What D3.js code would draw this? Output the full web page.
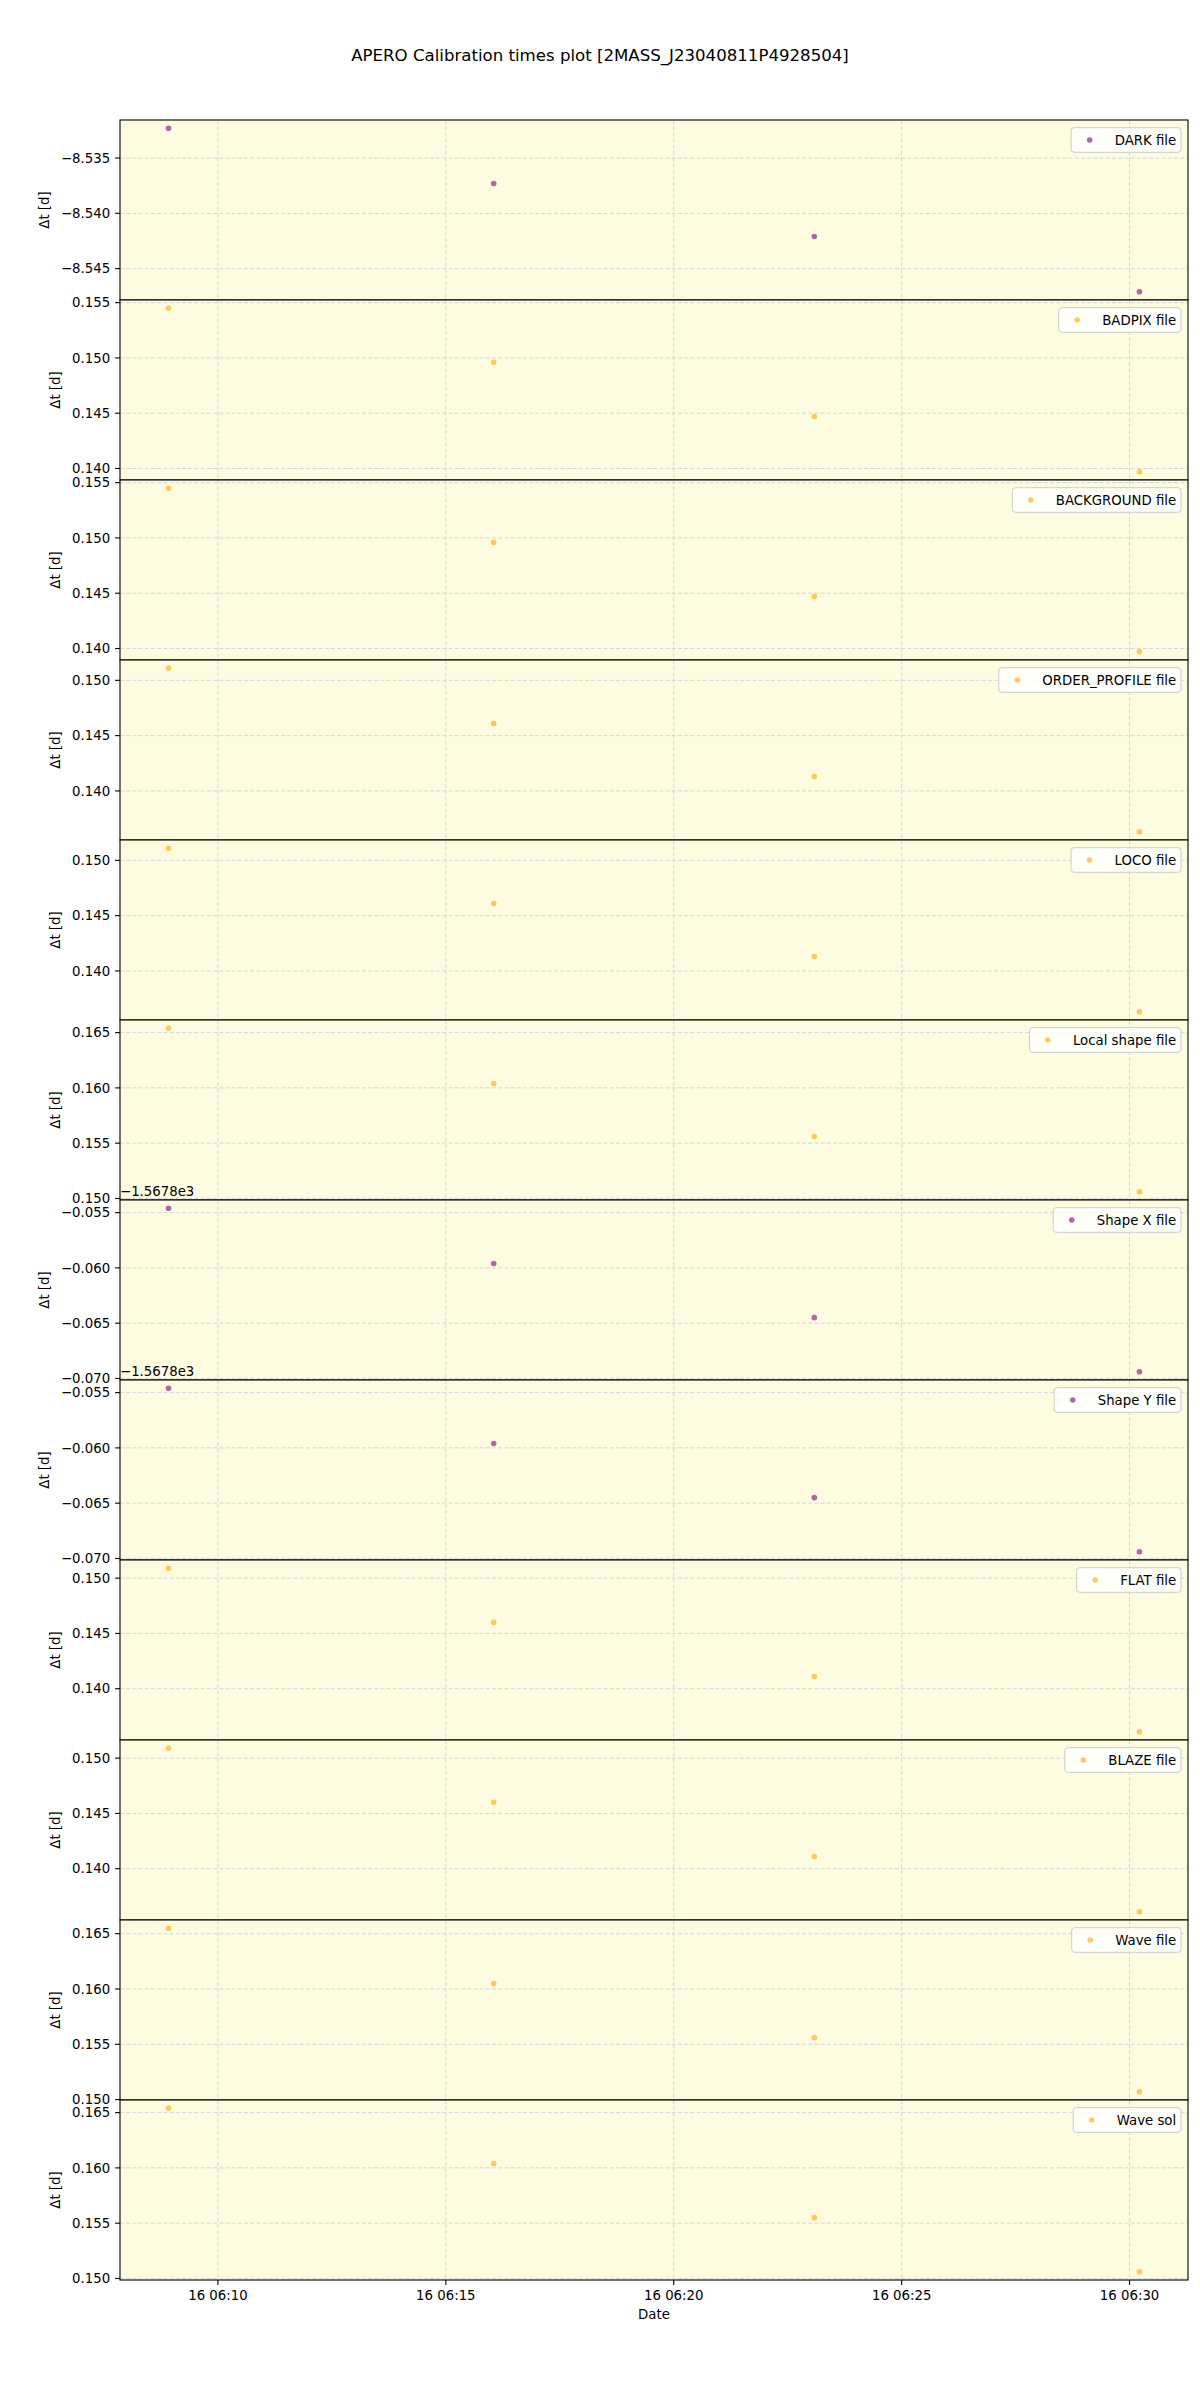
<!DOCTYPE html>
<html><head><meta charset="utf-8">
<script src="https://cdn.jsdelivr.net/npm/d3@7"></script>
<style>body{margin:0;background:#fff} text{font-family:"DejaVu Sans",sans-serif;fill:#000}</style>
</head><body><svg id="c" width="1200" height="2400"></svg>
<script>
// ---- data ----
const chartTitle = "APERO Calibration times plot [2MASS_J23040811P4928504]";
const obsTimes = ["2021-08-16T06:08:55Z","2021-08-16T06:16:03Z","2021-08-16T06:23:05Z","2021-08-16T06:30:13Z"];
const seriesLabels = ["DARK file","BADPIX file","BACKGROUND file","ORDER_PROFILE file","LOCO file","Local shape file","Shape X file","Shape Y file","FLAT file","BLAZE file","Wave file","Wave sol"];
const darkFile        = [-8.5323, -8.5373, -8.5421, -8.5471];
const badpixFile      = [0.1545, 0.1496, 0.1447, 0.1397];
const backgroundFile  = [0.1545, 0.1496, 0.1447, 0.1397];
const orderProfile    = [0.1511, 0.1461, 0.1413, 0.1363];
const locoFile        = [0.1511, 0.1461, 0.1413, 0.1363];
const localShapeFile  = [0.1654, 0.1604, 0.1556, 0.1506];
const shapeXFile      = [-1567.8546, -1567.8596, -1567.8645, -1567.8694];
const shapeYFile      = [-1567.8546, -1567.8596, -1567.8645, -1567.8694];
const flatFile        = [0.1509, 0.1460, 0.1411, 0.1361];
const blazeFile       = [0.1509, 0.1460, 0.1411, 0.1361];
const waveFile        = [0.1655, 0.1605, 0.1556, 0.1507];
const waveSol         = [0.1654, 0.1604, 0.1555, 0.1506];
const seriesValues = [darkFile,badpixFile,backgroundFile,orderProfile,locoFile,localShapeFile,shapeXFile,shapeYFile,flatFile,blazeFile,waveFile,waveSol];
const axisOffsets = [0,0,0,0,0,0,-1567.8,-1567.8,0,0,0,0];
const offsetLabels = ["","","","","","","−1.5678e3","−1.5678e3","","","",""];
const seriesKind = ["p","o","o","o","o","o","p","p","o","o","o","o"];

// ---- styles ----
const colors = {p:"#800080", o:"#ffa500"};
const L = 120, R = 1188, T = 120, PH = 180;
const FS = 13.3;
const svg = d3.select("#c");
const parse = d3.utcParse("%Y-%m-%dT%H:%M:%SZ");
const times = obsTimes.map(parse);

const tExt = d3.extent(times);
const tPad = (tExt[1]-tExt[0])*0.05;
const x = d3.scaleUtc().domain([new Date(+tExt[0]-tPad), new Date(+tExt[1]+tPad)]).range([L,R]);
const xTicks = x.ticks(d3.utcMinute.every(5));

svg.append("text").attr("x",600).attr("y",61).attr("text-anchor","middle")
  .style("font-size","16.6px").text(chartTitle);

seriesValues.forEach((vals,i)=>{
  const top = T + i*PH, bot = top + PH;
  const ext = d3.extent(vals);
  const pad = (ext[1]-ext[0])*0.05;
  const y = d3.scaleLinear().domain([ext[0]-pad, ext[1]+pad]).range([bot, top]);
  const g = svg.append("g");
  g.append("rect").attr("x",L).attr("y",top).attr("width",R-L).attr("height",PH).attr("fill","#fdfce1");
  const yt = y.ticks(4);
  const off = axisOffsets[i];
  const fmt = d3.format(".3f");
  // grid
  g.selectAll(".gy").data(yt).join("line").attr("x1",L).attr("x2",R)
    .attr("y1",d=>y(d)).attr("y2",d=>y(d)).attr("stroke","#cfd0d8").attr("stroke-width",0.9).attr("stroke-dasharray","4,2.2");
  g.selectAll(".gx").data(xTicks).join("line").attr("y1",top).attr("y2",bot)
    .attr("x1",d=>x(d)).attr("x2",d=>x(d)).attr("stroke","#cfd0d8").attr("stroke-width",0.9).attr("stroke-dasharray","4,2.2");
  // points
  g.selectAll(".pt").data(vals).join("circle").attr("cx",(d,j)=>x(times[j])).attr("cy",d=>y(d))
    .attr("r",2.8).attr("fill",colors[seriesKind[i]]).attr("fill-opacity",0.6);
  // frame
  g.append("rect").attr("x",L).attr("y",top).attr("width",R-L).attr("height",PH).attr("fill","none").attr("stroke","#000").attr("stroke-width",1.1);
  // y ticks
  let maxW = 0;
  yt.forEach(v=>{
    g.append("line").attr("x1",L-4.9).attr("x2",L).attr("y1",y(v)).attr("y2",y(v)).attr("stroke","#000").attr("stroke-width",1.1);
    const t = g.append("text").attr("x",L-9.8).attr("y",y(v)).attr("dy","0.36em").attr("text-anchor","end")
      .style("font-size",FS+"px").text(fmt(v-off));
    maxW = Math.max(maxW, t.node().getComputedTextLength());
  });
  if (offsetLabels[i]) {
    g.append("text").attr("x",L).attr("y",top-4).style("font-size",FS+"px").text(offsetLabels[i]);
  }
  // y label
  const yl = L-9.8-maxW-17;
  g.append("text").attr("transform",`translate(${yl},${top+PH/2}) rotate(-90)`).attr("text-anchor","middle")
    .attr("dy","0.36em").style("font-size",FS+"px").text("Δt [d]");
  // legend
  const lt = g.append("text").attr("y",top+7.7+12.3).attr("dy","0.36em").style("font-size",FS+"px").text(seriesLabels[i]);
  const tw = lt.node().getComputedTextLength();
  const boxR = R-7, boxW = tw + 42.5 + 5.8, boxL = boxR - boxW;
  g.insert("rect", () => lt.node()).attr("x",boxL).attr("y",top+7.7).attr("width",boxW).attr("height",24.6)
    .attr("rx",3).attr("fill","#fff").attr("fill-opacity",0.8).attr("stroke","#cccccc").attr("stroke-width",1);
  lt.attr("x",boxL+43.5);
  g.append("circle").attr("cx",boxL+18.5).attr("cy",top+7.7+12.3).attr("r",2.8)
    .attr("fill",colors[seriesKind[i]]).attr("fill-opacity",0.6);
  // x axis on last panel
  if (i === seriesValues.length-1) {
    const xf = d3.utcFormat("%d %H:%M");
    xTicks.forEach(t=>{
      g.append("line").attr("x1",x(t)).attr("x2",x(t)).attr("y1",bot).attr("y2",bot+4.9).attr("stroke","#000").attr("stroke-width",1.1);
      g.append("text").attr("x",x(t)).attr("y",bot+9.5).attr("dy","0.76em").attr("text-anchor","middle")
        .style("font-size",FS+"px").text(xf(t));
    });
    g.append("text").attr("x",(L+R)/2).attr("y",bot+29).attr("dy","0.76em").attr("text-anchor","middle")
      .style("font-size",FS+"px").text("Date");
  }
});
</script></body></html>
